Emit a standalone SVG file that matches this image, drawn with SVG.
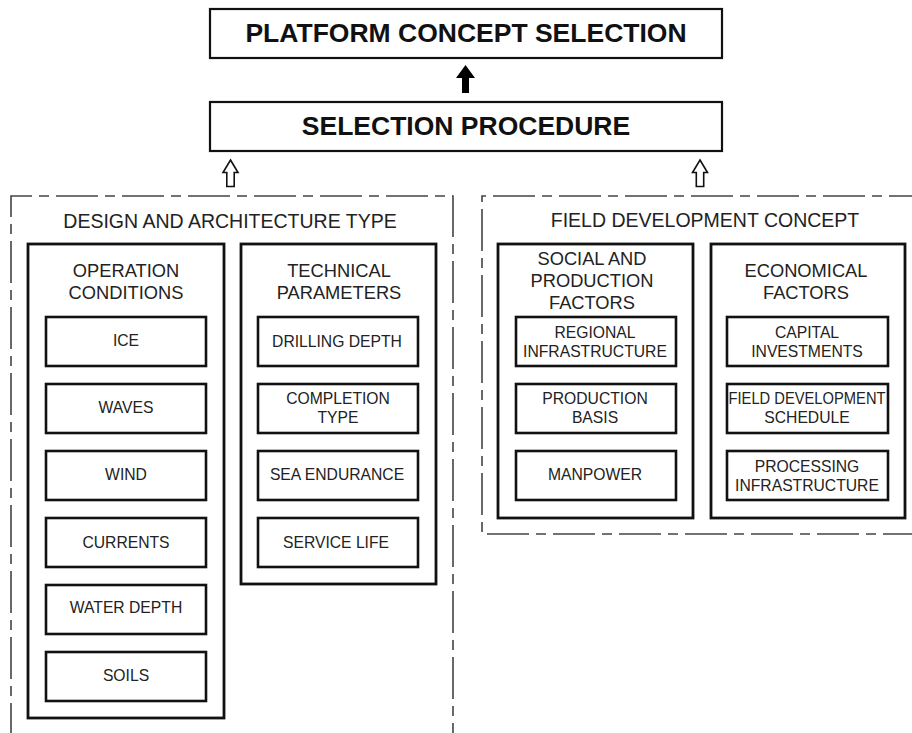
<svg xmlns="http://www.w3.org/2000/svg" width="912" height="733" viewBox="0 0 912 733">
<style>
.bg{fill:#fff}
.top{fill:#fff;stroke:#111;stroke-width:2.2}
.dash{fill:none;stroke:#444;stroke-width:1.6;stroke-dasharray:42 7 10 7}
.grp{fill:#fff;stroke:#111;stroke-width:2.8}
.item{fill:#fff;stroke:#111;stroke-width:2.6}
.tt{font-family:"Liberation Sans",Arial,sans-serif;font-weight:bold;font-size:26.5px;fill:#111;text-anchor:middle}
.st{font-family:"Liberation Sans",Arial,sans-serif;font-size:19.5px;fill:#222;text-anchor:middle}
.gt{font-family:"Liberation Sans",Arial,sans-serif;font-size:18.3px;fill:#222;text-anchor:middle}
.it{font-family:"Liberation Sans",Arial,sans-serif;font-size:15.7px;fill:#222;text-anchor:middle}
.hollow{fill:#fff;stroke:#111;stroke-width:1.6;stroke-linejoin:miter}
.solid{fill:#000}
</style>
<rect class="bg" width="912" height="733"/>

<g id="platform">
<rect class="top" x="210" y="9" width="512" height="49"/>
<text class="tt" x="466" y="42">PLATFORM CONCEPT SELECTION</text>
</g>
<g id="procedure">
<rect class="top" x="210" y="102" width="512" height="49"/>
<text class="tt" x="466" y="135">SELECTION PROCEDURE</text>
</g>

<g id="connectors">
<polygon class="solid" points="465.5,65 475,78 469,78 469,93 462,93 462,78 456,78"/>
<polygon class="hollow" points="230.5,160 238,172.5 234.2,172.5 234.2,186.5 226.8,186.5 226.8,172.5 223,172.5"/>
<polygon class="hollow" points="700,160 707.5,172.5 703.7,172.5 703.7,186.5 696.3,186.5 696.3,172.5 692.5,172.5"/>
</g>

<g id="design">
<path class="dash" d="M11,745 L11,196 L453,196 L453,745"/>
<text class="st" x="230" y="228">DESIGN AND ARCHITECTURE TYPE</text>
</g>

<g id="operation">
<rect class="grp" x="28" y="244" width="196" height="474"/>
<text class="gt" x="126" y="277">OPERATION</text>
<text class="gt" x="126" y="299">CONDITIONS</text>
</g>
<g id="ice"><rect class="item" x="46" y="317" width="160" height="49"/><text class="it" x="126" y="346">ICE</text></g>
<g id="waves"><rect class="item" x="46" y="384" width="160" height="49"/><text class="it" x="126" y="413">WAVES</text></g>
<g id="wind"><rect class="item" x="46" y="451" width="160" height="49"/><text class="it" x="126" y="480">WIND</text></g>
<g id="currents"><rect class="item" x="46" y="518" width="160" height="49"/><text class="it" x="126" y="548">CURRENTS</text></g>
<g id="waterdepth"><rect class="item" x="46" y="585" width="160" height="49"/><text class="it" x="126" y="613">WATER DEPTH</text></g>
<g id="soils"><rect class="item" x="46" y="652" width="160" height="49"/><text class="it" x="126" y="681">SOILS</text></g>

<g id="technical">
<rect class="grp" x="241" y="244" width="195" height="340"/>
<text class="gt" x="339" y="277">TECHNICAL</text>
<text class="gt" x="339" y="299">PARAMETERS</text>
</g>
<g id="drilling"><rect class="item" x="258" y="317" width="160" height="49"/><text class="it" x="337" y="347">DRILLING DEPTH</text></g>
<g id="completion"><rect class="item" x="258" y="384" width="160" height="49"/><text class="it" x="338" y="404">COMPLETION</text><text class="it" x="338" y="423">TYPE</text></g>
<g id="endurance"><rect class="item" x="258" y="451" width="160" height="49"/><text class="it" x="337" y="480">SEA ENDURANCE</text></g>
<g id="servicelife"><rect class="item" x="258" y="518" width="160" height="49"/><text class="it" x="336" y="548">SERVICE LIFE</text></g>

<g id="field">
<path class="dash" d="M925,534 L482,534 L482,196 L925,196"/>
<text class="st" x="705" y="227">FIELD DEVELOPMENT CONCEPT</text>
</g>

<g id="social">
<rect class="grp" x="498" y="244" width="195" height="274"/>
<text class="gt" x="592" y="265">SOCIAL AND</text>
<text class="gt" x="592" y="287">PRODUCTION</text>
<text class="gt" x="592" y="309">FACTORS</text>
</g>
<g id="regional"><rect class="item" x="516" y="317" width="160" height="49"/><text class="it" x="595" y="338">REGIONAL</text><text class="it" x="595" y="357">INFRASTRUCTURE</text></g>
<g id="prodbasis"><rect class="item" x="516" y="384" width="160" height="49"/><text class="it" x="595" y="404">PRODUCTION</text><text class="it" x="595" y="423">BASIS</text></g>
<g id="manpower"><rect class="item" x="516" y="451" width="160" height="49"/><text class="it" x="595" y="480">MANPOWER</text></g>

<g id="economical">
<rect class="grp" x="711" y="244" width="194" height="274"/>
<text class="gt" x="806" y="277">ECONOMICAL</text>
<text class="gt" x="806" y="299">FACTORS</text>
</g>
<g id="capital"><rect class="item" x="727" y="317" width="161" height="49"/><text class="it" x="807" y="338">CAPITAL</text><text class="it" x="807" y="357">INVESTMENTS</text></g>
<g id="schedule"><rect class="item" x="727" y="384" width="161" height="49"/><text class="it" x="807" y="404" textLength="157" lengthAdjust="spacingAndGlyphs">FIELD DEVELOPMENT</text><text class="it" x="807" y="423">SCHEDULE</text></g>
<g id="processing"><rect class="item" x="727" y="451" width="161" height="49"/><text class="it" x="807" y="472">PROCESSING</text><text class="it" x="807" y="491">INFRASTRUCTURE</text></g>
</svg>
